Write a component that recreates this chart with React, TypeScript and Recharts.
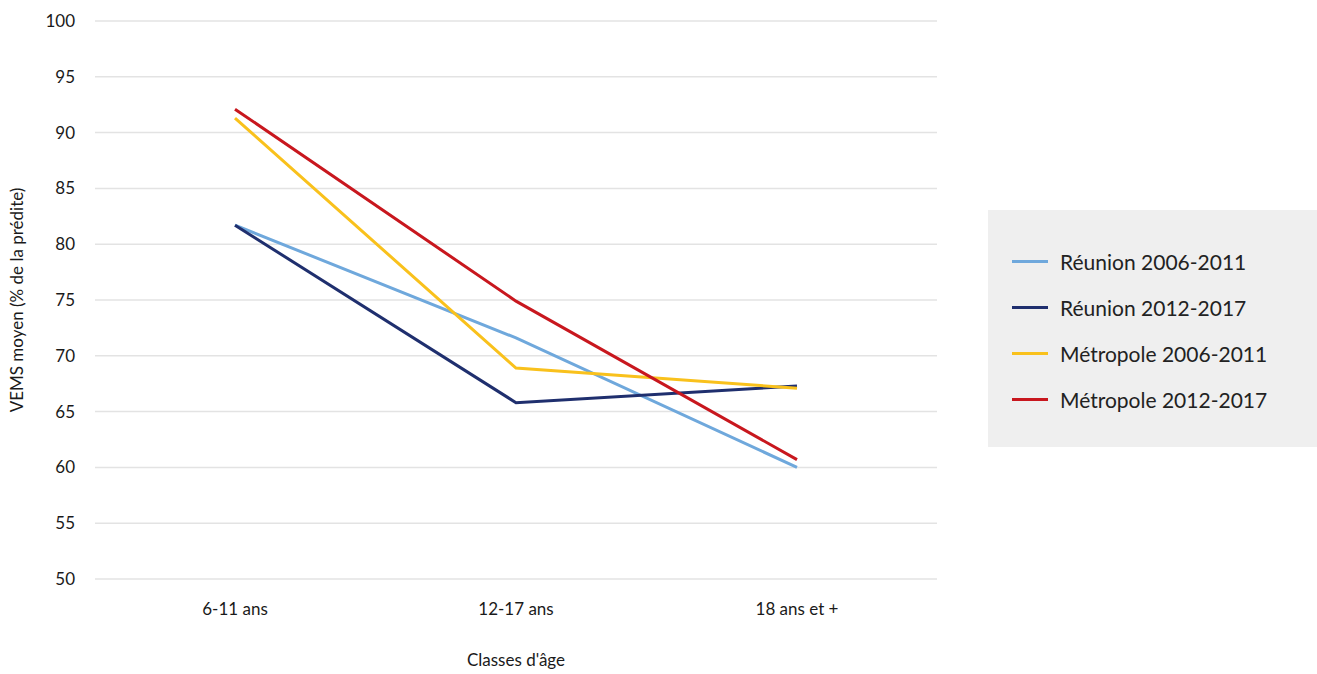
import React from 'react';
import {
  LineChart,
  Line,
  XAxis,
  YAxis,
  CartesianGrid,
  Legend
} from 'recharts';

const categories = ['6-11 ans', '12-17 ans', '18 ans et +'];
const reunion2006 = [81.7, 71.6, 60.0];
const reunion2012 = [81.7, 65.8, 67.3];
const metropole2006 = [91.3, 68.9, 67.1];
const metropole2012 = [92.1, 74.9, 60.7];
const yTicks = [50, 55, 60, 65, 70, 75, 80, 85, 90, 95, 100];

const series = [
  { key: 'r2006', name: 'Réunion 2006-2011', color: '#6fa8dc', values: reunion2006 },
  { key: 'r2012', name: 'Réunion 2012-2017', color: '#1f2f6e', values: reunion2012 },
  { key: 'm2006', name: 'Métropole 2006-2011', color: '#f9c11c', values: metropole2006 },
  { key: 'm2012', name: 'Métropole 2012-2017', color: '#c8171e', values: metropole2012 }
];

const data = categories.map((cat, i) => {
  const row: Record<string, string | number> = { cat };
  series.forEach(s => {
    row[s.key] = s.values[i];
  });
  return row;
});

const FONT = 'Lato, "Open Sans", sans-serif';

// légende dans une boîte grise à droite
const LegendBox = () => (
  <div
    style={{
      background: '#efefef',
      width: 329,
      height: 237,
      boxSizing: 'border-box',
      paddingTop: 28,
      paddingLeft: 24,
      fontFamily: FONT
    }}
  >
    {series.map(s => (
      <div key={s.key} style={{ display: 'flex', alignItems: 'center', height: 46 }}>
        <span style={{ width: 36, height: 3, background: s.color, display: 'inline-block' }} />
        <span style={{ marginLeft: 12, fontSize: 21, color: '#222' }}>{s.name}</span>
      </div>
    ))}
  </div>
);

const App: React.FC = () => {
  return (
    <div style={{ position: 'absolute', left: 0, top: 0, width: 1317, height: 674, background: '#fff' }}>
      <LineChart
        width={1317}
        height={674}
        data={data}
        margin={{ top: 21, right: 51, left: 35, bottom: 0 }}
      >
        <CartesianGrid stroke="#e3e3e3" strokeWidth={1.5} vertical={false} />
        <XAxis
          dataKey="cat"
          padding={{ left: 140, right: 140 }}
          axisLine={false}
          tickLine={false}
          height={95}
          tick={{ fontSize: 17, fill: '#1a1a1a', fontFamily: FONT }}
          tickMargin={18}
          label={{
            value: "Classes d'âge",
            position: 'insideBottom',
            offset: 8,
            style: { fontSize: 17, fill: '#1a1a1a', fontFamily: FONT }
          }}
        />
        <YAxis
          domain={[50, 100]}
          ticks={yTicks}
          interval={0}
          axisLine={false}
          tickLine={false}
          width={60}
          tickMargin={14}
          tick={{ fontSize: 17, fill: '#1a1a1a', fontFamily: FONT }}
          label={{
            value: 'VEMS moyen (% de la prédite)',
            angle: -90,
            position: 'insideLeft',
            offset: -18,
            style: { textAnchor: 'middle', fontSize: 17, fill: '#1a1a1a', fontFamily: FONT }
          }}
        />
        <Legend
          layout="vertical"
          align="right"
          verticalAlign="middle"
          content={<LegendBox />}
          wrapperStyle={{ right: 0, top: 210, width: 329, height: 237 }}
        />
        {series.map(s => (
          <Line
            key={s.key}
            type="linear"
            dataKey={s.key}
            name={s.name}
            stroke={s.color}
            strokeWidth={3}
            dot={false}
            activeDot={false}
            isAnimationActive={false}
          />
        ))}
      </LineChart>
    </div>
  );
};

export default App;
